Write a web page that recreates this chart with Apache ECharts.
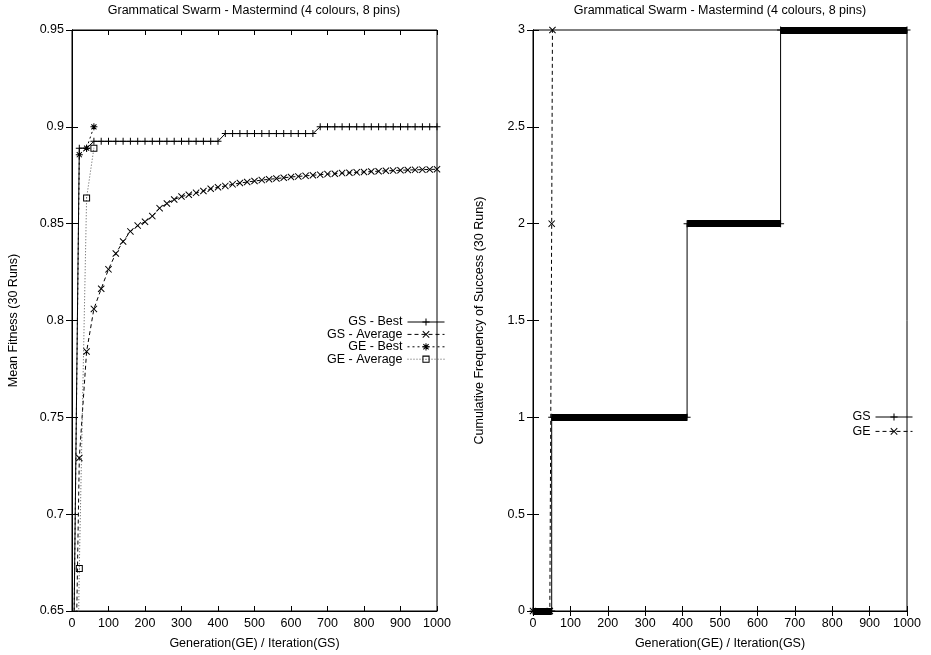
<!DOCTYPE html>
<html><head><meta charset="utf-8">
<script src="https://cdn.jsdelivr.net/npm/echarts@6/dist/echarts.min.js"></script>
<style>html,body{margin:0;padding:0;background:#fff}#c{width:931px;height:655px}</style>
</head><body><div id="c"></div>
<script>
const titleText = 'Grammatical Swarm - Mastermind (4 colours, 8 pins)';
const xAxisName = 'Generation(GE) / Iteration(GS)';
const leftYName = 'Mean Fitness (30 Runs)';
const rightYName = 'Cumulative Frequency of Success (30 Runs)';

// Left chart: mean fitness
const gsIter = [0,20,40,60,80,100,120,140,160,180,200,220,240,260,280,300,320,340,360,380,400,420,440,460,480,500,520,540,560,580,600,620,640,660,680,700,720,740,760,780,800,820,840,860,880,900,920,940,960,980,1000];
const gsBest = [0.55,0.889,0.889,0.8925,0.8925,0.8925,0.8925,0.8925,0.8925,0.8925,0.8925,0.8925,0.8925,0.8925,0.8925,0.8925,0.8925,0.8925,0.8925,0.8925,0.8925,0.8965,0.8965,0.8965,0.8965,0.8965,0.8965,0.8965,0.8965,0.8965,0.8965,0.8965,0.8965,0.8965,0.9,0.9,0.9,0.9,0.9,0.9,0.9,0.9,0.9,0.9,0.9,0.9,0.9,0.9,0.9,0.9,0.9];
const gsAvg = [0.5,0.729,0.784,0.806,0.8164,0.8264,0.8346,0.8408,0.846,0.849,0.851,0.8539,0.858,0.8604,0.8625,0.864,0.8649,0.8659,0.8669,0.868,0.8688,0.8695,0.8703,0.871,0.8715,0.872,0.8725,0.8729,0.8733,0.8737,0.8741,0.8744,0.8747,0.875,0.8753,0.8756,0.8758,0.8761,0.8763,0.8765,0.8767,0.8769,0.8771,0.8773,0.8774,0.8776,0.8777,0.8778,0.8779,0.878,0.8781];
const geIter = [0,20,40,60];
const geBest = [0.55,0.8856,0.889,0.9];
const geAvg = [0.4,0.672,0.8633,0.889];

// Right chart: cumulative frequency of success
const gsSuccessX = [0,50,412,662,1000];
const gsSuccessLevel = [0,1,2,3];
const geSuccessX = [0,45,50,52];
const geSuccessY = [0,0,2,3];

const FONT = 'Liberation Sans, Arial, Helvetica, sans-serif';
const PLUS = 'path://M3,0H4V3H7V4H4V7H3V4H0V3H3Z';
const CROSS = 'path://M0,0.7L0.7,0L3.5,2.8L6.3,0L7,0.7L4.2,3.5L7,6.3L6.3,7L3.5,4.2L0.7,7L0,6.3L2.8,3.5Z';
const STAR = 'path://M3,0H4V3H7V4H4V7H3V4H0V3H3Z M0.6,1.3L1.3,0.6L6.4,5.7L5.7,6.4Z M5.7,0.6L6.4,1.3L1.3,6.4L0.6,5.7Z';
const BOX = 'path://M0,0H7V7H0Z M1,1V6H6V1Z M3.2,3.2V3.8H3.8V3.2Z';

const zip = (xs, ys) => xs.map((x, i) => [x, ys[i]]);
const gsStep = [];
gsSuccessLevel.forEach((lv, i) => { gsStep.push([gsSuccessX[i], lv]); gsStep.push([gsSuccessX[i + 1], lv]); });
const gsBars = gsSuccessLevel.map((lv, i) => ({ coords: [[gsSuccessX[i], lv], [gsSuccessX[i + 1], lv]] }));

const txt = { color: '#000', fontFamily: FONT, fontSize: 12.5 };
function xAx(grid, pos, withLabel) {
  return {
    type: 'value', gridIndex: grid, position: pos, min: 0, max: 1000, interval: 100,
    name: withLabel ? xAxisName : '', nameLocation: 'middle', nameGap: 26, nameTextStyle: txt,
    axisLine: { show: true, lineStyle: { color: '#000', width: 1 } },
    axisTick: { show: true, inside: true, length: 5, lineStyle: { color: '#000' } },
    axisLabel: { show: withLabel, margin: 6, formatter: v => String(v), ...txt },
    splitLine: { show: false }
  };
}
function yAx(grid, pos, withLabel, min, max, interval, name, gap) {
  return {
    type: 'value', gridIndex: grid, position: pos, min: min, max: max, interval: interval,
    name: withLabel ? name : '', nameLocation: 'middle', nameGap: gap, nameRotate: 90, nameTextStyle: txt,
    axisLine: { show: true, lineStyle: { color: '#000', width: 1 } },
    axisTick: { show: true, inside: true, length: 6, lineStyle: { color: '#000' } },
    axisLabel: { show: withLabel, margin: 8, formatter: v => String(v), ...txt },
    splitLine: { show: false }
  };
}

const chart = echarts.init(document.getElementById('c'), null, { renderer: 'canvas' });
chart.setOption({
  animation: false,
  backgroundColor: '#fff',
  title: [
    { text: titleText, left: 254, top: 4, padding: 0, textAlign: 'center', textStyle: { ...txt, fontWeight: 'normal' } },
    { text: titleText, left: 720, top: 4, padding: 0, textAlign: 'center', textStyle: { ...txt, fontWeight: 'normal' } }
  ],
  grid: [
    { left: 72, right: 494, top: 30, bottom: 44, show: true, borderColor: '#000', borderWidth: 1 },
    { left: 533, right: 24, top: 30, bottom: 44, show: true, borderColor: '#000', borderWidth: 1 }
  ],
  xAxis: [xAx(0, 'bottom', true), xAx(0, 'top', false), xAx(1, 'bottom', true), xAx(1, 'top', false)],
  yAxis: [
    yAx(0, 'left', true, 0.65, 0.95, 0.05, leftYName, 52),
    yAx(0, 'right', false, 0.65, 0.95, 0.05, '', 0),
    yAx(1, 'left', true, 0, 3, 0.5, rightYName, 47),
    yAx(1, 'right', false, 0, 3, 0.5, '', 0)
  ],
  legend: [
    {
      data: ['GS - Best', 'GS - Average', 'GE - Best', 'GE - Average'],
      orient: 'vertical', align: 'right', right: 486, top: 315.5, padding: 0,
      itemWidth: 37, itemHeight: 9, itemGap: -0.6,
      lineStyle: { width: 1 }, textStyle: { ...txt, lineHeight: 10 }, selectedMode: false
    },
    {
      data: ['GS', 'GE'],
      orient: 'vertical', align: 'right', right: 18, top: 410.5, padding: 0,
      itemWidth: 37, itemHeight: 9, itemGap: 1.4,
      lineStyle: { width: 1 }, textStyle: { ...txt, lineHeight: 10 }, selectedMode: false
    }
  ],
  series: [
    { name: 'GS - Best', type: 'line', xAxisIndex: 0, yAxisIndex: 0, data: zip(gsIter, gsBest), clip: true,
      symbol: PLUS, symbolSize: 7, showAllSymbol: true, itemStyle: { color: '#000', borderWidth: 0 },
      lineStyle: { color: '#000', width: 1, type: 'solid' }, emphasis: { disabled: true } },
    { name: 'GS - Average', type: 'line', xAxisIndex: 0, yAxisIndex: 0, data: zip(gsIter, gsAvg), clip: true,
      symbol: CROSS, symbolSize: 7, showAllSymbol: true, itemStyle: { color: '#000', borderWidth: 0 },
      lineStyle: { color: '#000', width: 1, type: [4, 3] }, emphasis: { disabled: true } },
    { name: 'GE - Best', type: 'line', xAxisIndex: 0, yAxisIndex: 0, data: zip(geIter, geBest), clip: true,
      symbol: STAR, symbolSize: 7, showAllSymbol: true, itemStyle: { color: '#000', borderWidth: 0 },
      lineStyle: { color: '#000', width: 1, type: [2, 3] }, emphasis: { disabled: true } },
    { name: 'GE - Average', type: 'line', xAxisIndex: 0, yAxisIndex: 0, data: zip(geIter, geAvg), clip: true,
      symbol: BOX, symbolSize: 7, showAllSymbol: true, itemStyle: { color: '#000', borderWidth: 0 },
      lineStyle: { color: '#555', width: 1, type: [1, 2] }, emphasis: { disabled: true } },
    { name: 'GS', type: 'line', xAxisIndex: 2, yAxisIndex: 2, data: gsStep, clip: false,
      symbol: PLUS, symbolSize: 7, showAllSymbol: true, itemStyle: { color: '#000', borderWidth: 0 },
      lineStyle: { color: '#000', width: 1, type: 'solid' }, emphasis: { disabled: true }, z: 3 },
    { type: 'lines', coordinateSystem: 'cartesian2d', xAxisIndex: 2, yAxisIndex: 2, data: gsBars, clip: false,
      polyline: false, silent: true, lineStyle: { color: '#000', width: 7, opacity: 1, cap: 'butt' }, z: 4 },
    { name: 'GE', type: 'line', xAxisIndex: 2, yAxisIndex: 2, data: zip(geSuccessX, geSuccessY), clip: false,
      symbol: CROSS, symbolSize: 7, showAllSymbol: true, itemStyle: { color: '#000', borderWidth: 0 },
      lineStyle: { color: '#000', width: 1, type: [4, 3] }, emphasis: { disabled: true }, z: 5 }
  ]
});
</script></body></html>
